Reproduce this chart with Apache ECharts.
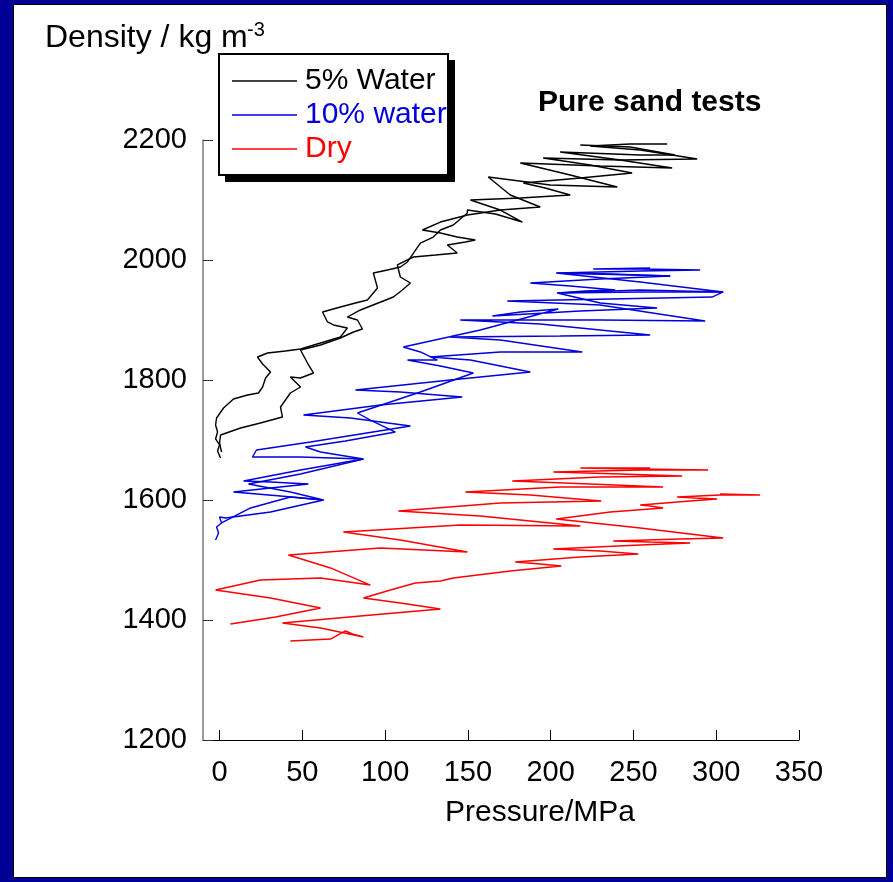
<!DOCTYPE html>
<html>
<head>
<meta charset="utf-8">
<script src="https://cdn.jsdelivr.net/npm/echarts@6/dist/echarts.min.js"></script>
<style>
  html, body { margin: 0; padding: 0; background: #000096; }
  #chart { width: 893px; height: 882px; }
</style>
</head>
<body>
<div id="chart"></div>
<script>
// Axis ticks
const pressureTicks = [0, 50, 100, 150, 200, 250, 300, 350];
const densityMin = 1200, densityMax = 2200, densityStep = 200;

// Series labels and colours
const labels = ['5% Water', '10% water', 'Dry'];
const colors = ['#000000', '#0000dd', '#ff0000'];

// Cyclic compaction runs: [pressure MPa, density kg/m3]
const water5RunA = [
  [0.6,1670],[-1.2,1681.7],[0,1691.7],[-2.4,1701.7],[-1.2,1713.3],[-2.4,1725],[-1.8,1736.7],
  [2.4,1753.3],[8.4,1768.3],[16.9,1775],[23.5,1778.3],[26.0,1788.3],[27.8,1803.3],[30.8,1813.3],
  [26.0,1826.7],[22.9,1838.3],[29.0,1845],[39.8,1848.3],[48.9,1851.7],[61.0,1861.7],[73.0,1871.7],
  [77.2,1886.7],[68.8,1891.7],[65.2,1896.7],[62.2,1913.3],[73.0,1921.7],[82.1,1928.3],[89.3,1933.3],
  [95.4,1953.3],[92.9,1978.3],[101.4,1983.3],[109.2,1988.3],[113.5,1996.7],[121.3,2028.3],[129.1,2038.3],
  [133.4,2050],[141.2,2058.3],[149.7,2078.3],[149.7,2083.3],[166.6,2076.7],[182.9,2063.3],[169.6,2083.3],
  [151.5,2100],[181.7,2103.3],[211.8,2108.3],[196.7,2120],[183.5,2128.3],[217.9,2136.7],[249.2,2145],
  [223.9,2158.3],[195.5,2170],[242.0,2166.7],[288.5,2168.3],[254.1,2183.3],[223.9,2190],[248.0,2193.3],
  [270.4,2193.3]
];
const water5RunB = [
  [1.2,1680],[0,1695],[0.6,1708.3],[12.7,1720],[24.7,1728.3],[38.0,1738.3],[36.8,1755],
  [42.8,1778.3],[48.9,1788.3],[42.8,1805],[48.9,1803.3],[56.7,1811.7],[53.1,1828.3],[48.9,1850],
  [61.0,1858.3],[73.0,1870],[80.9,1880],[86.3,1885],[83.3,1900],[77.2,1905],[85.1,1916.7],
  [105.0,1938.3],[110.4,1950],[115.3,1961.7],[109.2,1971.7],[107.4,1991.7],[117.1,2005],[130.4,2008.3],
  [143.6,2011.7],[137.6,2025],[148.5,2030],[154.5,2033.3],[143.6,2038.3],[133.4,2045],[122.5,2050],
  [133.4,2063.3],[149.7,2075],[169.6,2083.3],[193.7,2088.3],[175.6,2108.3],[162.3,2138.3],[199.8,2125],
  [240.2,2121.7],[211.8,2141.7],[181.7,2161.7],[229.9,2156.7],[273.4,2153.3],[242.0,2166.7],[205.8,2180],
  [254.1,2175],[275.2,2175],[248.0,2188.3],[217.9,2191.7]
];
const water10RunA = [
  [-2.4,1533.3],[-0.6,1545],[-1.8,1555],[1.2,1561.7],[0,1571.7],[3.6,1570],[30.8,1580],
  [62.8,1600],[36.8,1606.7],[8.4,1613.3],[30.8,1620],[53.7,1626.7],[30.8,1630],[14.5,1631.7],
  [48.9,1650],[86.9,1668.3],[48.9,1671.7],[19.9,1671.7],[22.3,1683.3],[54.9,1696.7],[115.3,1723.3],
  [79.1,1736.7],[50.7,1741.7],[97.2,1758.3],[146.6,1771.7],[109.2,1780],[82.1,1783.3],[139.4,1800],
  [187.7,1813.3],[151.5,1833.3],[127.3,1838.3],[169.6,1846.7],[219.1,1846.7],[169.6,1866.7],[139.4,1871.7],
  [205.8,1873.3],[260.1,1875],[193.7,1893.3],[145.4,1900],[229.9,1900],[293.3,1898.3],[229.9,1925],
  [173.8,1931.7],[236.0,1935],[297.5,1938.3],[304.2,1946.7],[254.1,1946.7],[204.0,1945],[220.9,1948.3],
  [239.0,1950],[211.8,1956.7],[187.7,1961.7],[229.9,1968.3],[272.2,1973.3],[236.0,1976.7],[204.0,1978.3],
  [254.1,1981.7],[290.3,1983.3],[254.1,1985],[225.7,1985],[260.1,1986.7]
];
const water10RunB = [
  [1.2,1561.7],[18.7,1586.7],[42.8,1605],[62.8,1600],[42.8,1613.3],[17.5,1626.7],[48.9,1643.3],
  [86.9,1668.3],[61.0,1680],[51.9,1688.3],[76.0,1698.3],[106.2,1713.3],[91.1,1733.3],[83.3,1745],
  [121.3,1780],[153.3,1811.7],[133.4,1823.3],[113.5,1833.3],[131.6,1833.3],[121.3,1846.7],[111.0,1855],
  [157.5,1883.3],[204.6,1918.3],[181.7,1913.3],[164.8,1906.7],[217.9,1915],[264.3,1920],[229.9,1928.3],
  [204.0,1945],[254.1,1950],[304.2,1946.7],[254.1,1963.3],[203.4,1978.3],[272.2,1973.3]
];
const dryRunA = [
  [6.6,1393.3],[33.8,1405.0],[61.0,1420.0],[30.8,1436.7],[-2.4,1450.0],[24.7,1466.7],
  [61.0,1470.0],[91.1,1458.3],[67.0,1486.7],[41.6,1508.3],[97.2,1520.0],[149.7,1513.3],
  [109.2,1533.3],[74.8,1546.7],[145.4,1558.3],[217.9,1556.7],[157.5,1573.3],[108.0,1581.7],
  [169.6,1595.0],[230.5,1598.3],[187.7,1608.3],[148.5,1613.3],[205.8,1621.7],[267.9,1621.7],
  [223.9,1626.7],[176.8,1631.7],[229.9,1638.3],[279.4,1640.0],[242.0,1643.3],[201.6,1646.7],
  [254.1,1650.0],[295.1,1650.0],[254.1,1651.7],[217.9,1653.3],[260.1,1653.3]
];
const dryRunB = [
  [42.8,1365.0],[67.0,1368.3],[76.0,1381.7],[80.3,1376.7],[86.9,1371.7],[61.0,1386.7],
  [38.0,1395.0],[85.1,1406.7],[133.4,1418.3],[109.2,1428.3],[86.9,1436.7],[103.2,1450.0],
  [118.3,1461.7],[133.4,1465.0],[141.2,1470.0],[175.6,1481.7],[206.4,1490.0],[193.7,1493.3],
  [178.6,1496.7],[217.9,1505.0],[252.9,1510.0],[229.9,1515.0],[201.6,1518.3],[254.1,1525.0],
  [284.2,1528.3],[260.1,1530.0],[237.8,1531.7],[278.2,1535.0],[304.2,1536.7],[254.1,1553.3],
  [203.4,1568.3],[236.0,1580.0],[267.9,1586.7],[260.1,1590.0],[254.1,1591.7],[284.2,1598.3],
  [300.5,1601.7],[287.3,1603.3],[276.4,1605.0],[302.3,1608.3],[326.5,1608.3],[302.3,1610.0]
];

const FONT = "'Liberation Sans', Arial, Helvetica, sans-serif";

function run(name, color, data) {
  return {
    name: name,
    type: 'line',
    data: data,
    showSymbol: false,
    symbol: 'none',
    smooth: false,
    animation: false,
    color: color,
    lineStyle: { color: color, width: 1.4 },
    z: 2
  };
}

const chart = echarts.init(document.getElementById('chart'), null, { renderer: 'canvas' });

chart.setOption({
  backgroundColor: 'transparent',
  animation: false,
  textStyle: { fontFamily: FONT },
  grid: { left: 203, top: 140, width: 596, height: 600, containLabel: false },
  xAxis: {
    type: 'value',
    min: -10,
    max: 350,
    name: 'Pressure/MPa',
    nameLocation: 'middle',
    nameGap: 58,
    nameTextStyle: { fontFamily: FONT, fontSize: 30, color: '#000', padding: [0, 0, 0, 78] },
    axisLine: { show: true, onZero: false, lineStyle: { color: '#000', width: 1 } },
    axisTick: { show: true, inside: true, length: 10, customValues: pressureTicks, lineStyle: { color: '#000', width: 1 } },
    axisLabel: { customValues: pressureTicks, fontFamily: FONT, fontSize: 29, color: '#000', margin: 18 },
    splitLine: { show: false }
  },
  yAxis: {
    type: 'value',
    min: densityMin,
    max: densityMax,
    interval: densityStep,
    axisLine: { show: true, onZero: false, lineStyle: { color: '#7a7a7a', width: 1.5 } },
    axisTick: { show: true, inside: true, length: 10, lineStyle: { color: '#333', width: 1 } },
    axisLabel: { fontFamily: FONT, fontSize: 29, color: '#000', margin: 16, formatter: v => String(v) },
    splitLine: { show: false }
  },
  legend: {
    orient: 'vertical',
    left: 218,
    top: 52,
    padding: [14, 4, 12, 14],
    itemGap: 4,
    itemWidth: 65,
    itemHeight: 1.5,
    icon: 'rect',
    selectedMode: false,
    z: 8,
    textStyle: { fontFamily: FONT, fontSize: 30, padding: [0, 0, 0, 3] },
    data: labels.map((n, i) => ({ name: n, textStyle: { color: colors[i] } }))
  },
  graphic: [
    { type: 'rect', z: -10, silent: true, shape: { x: 13.5, y: 4.5, width: 873, height: 873 },
      style: { fill: '#ffffff', stroke: '#000000', lineWidth: 1 } },
    { type: 'rect', z: 6, silent: true, shape: { x: 225, y: 60, width: 230, height: 122 },
      style: { fill: '#000000' } },
    { type: 'rect', z: 7, silent: true, shape: { x: 219, y: 54, width: 229, height: 121 },
      style: { fill: '#ffffff', stroke: '#000000', lineWidth: 2 } },
    { type: 'text', z: 9, silent: true, left: 45, top: 22,
      style: { text: 'Density / kg m', font: '32px ' + FONT, fill: '#000' } },
    { type: 'text', z: 9, silent: true, left: 247, top: 20,
      style: { text: '-3', font: '20px ' + FONT, fill: '#000' } },
    { type: 'text', z: 9, silent: true, left: 538, top: 88,
      style: { text: 'Pure sand tests', font: 'bold 30px ' + FONT, fill: '#000' } }
  ],
  series: [
    run(labels[0], colors[0], water5RunA),
    run(labels[0], colors[0], water5RunB),
    run(labels[1], colors[1], water10RunA),
    run(labels[1], colors[1], water10RunB),
    run(labels[2], colors[2], dryRunA),
    run(labels[2], colors[2], dryRunB)
  ]
});
</script>
</body>
</html>
